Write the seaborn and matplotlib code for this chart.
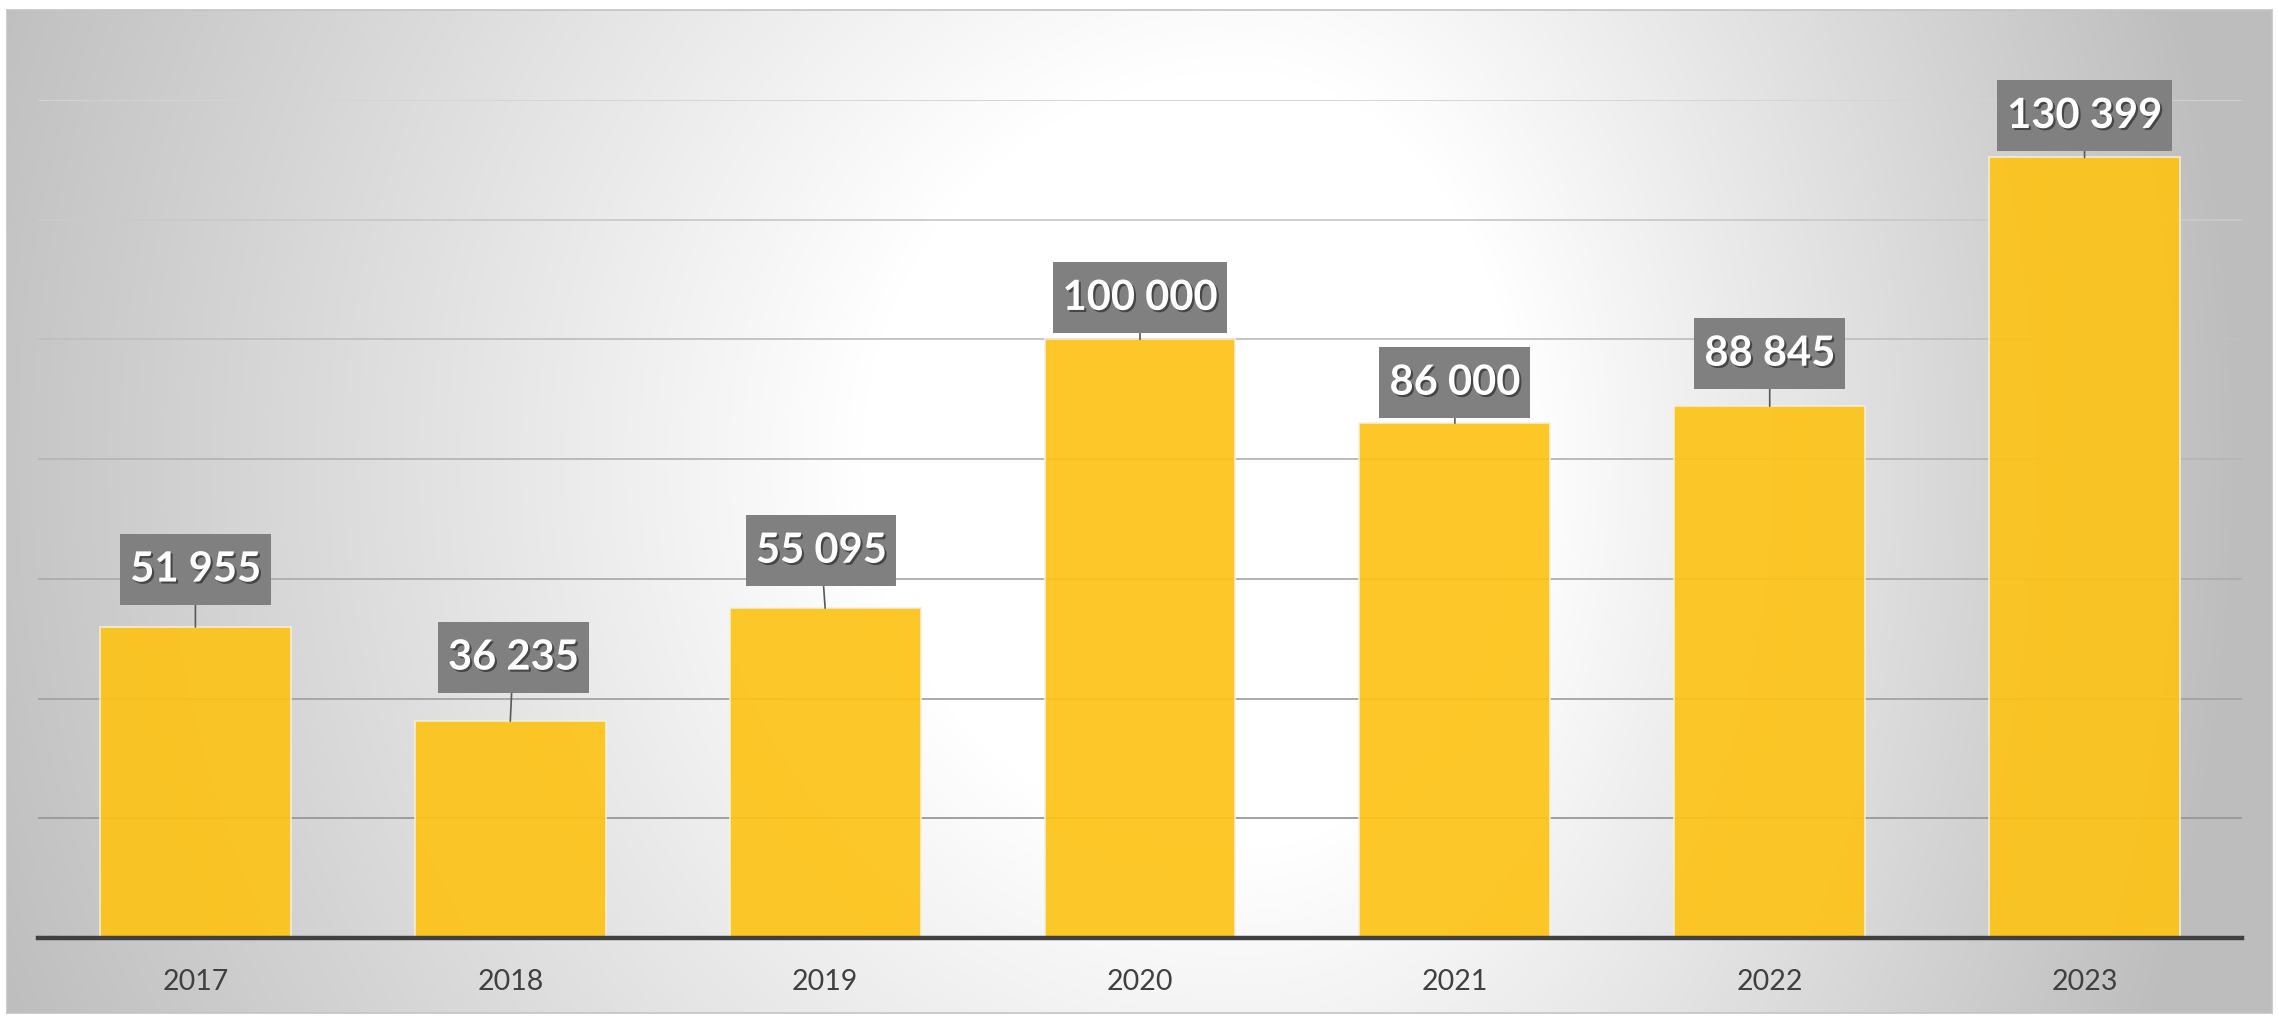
import numpy as np
import matplotlib.pyplot as plt
import matplotlib.patheffects as pe
import seaborn as sns

# Data
years = ["2017", "2018", "2019", "2020", "2021", "2022", "2023"]
values = [51955, 36235, 55095, 100000, 86000, 88845, 130399]
labels = ["51 955", "36 235", "55 095", "100 000", "86 000", "88 845", "130 399"]

# label placement (pixels above bar top, horizontal shift), as in the reference
label_gap = [22, 28, 22, 6, 5, 17, 6]
label_shift = [0, 3, -4, 0, 0, 0, 0]

W, H, DPI = 2279, 1016, 100

sns.set_theme(style="white")
plt.rcParams["font.family"] = ["Lato", "DejaVu Sans"]

fig = plt.figure(figsize=(W / DPI, H / DPI), dpi=DPI)
fig.patch.set_facecolor("white")

# radial grey-to-white background panel
bg = fig.add_axes([7 / W, 3 / H, (2272 - 7) / W, (1013 - 10) / H], zorder=0)
yy, xx = np.mgrid[0:1003, 0:2265]
dx = (xx - 1235).astype(float)
dx = np.where(dx > 0, dx * 1.25, dx * 0.92)
dy = (yy - 450) * 0.9
r = np.sqrt(dx ** 2 + dy ** 2)
t = np.clip((r - 350) / 900, 0, 1)
shade = 255 - 66 * t
img = np.dstack([shade, shade, shade]) / 255
bg.imshow(img, aspect="auto", interpolation="bilinear")
bg.set_xticks([])
bg.set_yticks([])
for s in bg.spines.values():
    s.set_color("#c4c4c4")
    s.set_linewidth(1.2)

ax = fig.add_axes([38 / W, 1 - 938 / H, (2242 - 38) / W, (938 - 100) / H], zorder=1)
ax.patch.set_alpha(0)

# gridlines, lighter towards the top like the reference
grid_levels = np.arange(20000, 140001, 20000)
for g in grid_levels:
    f = (g - 20000) / 120000
    c = 0.60 + 0.23 * f
    ax.axhline(g, color=(c, c, c), lw=1.3, zorder=0)

sns.barplot(x=years, y=values, color="#FDC316", saturation=1, width=0.606,
            alpha=0.92, edgecolor="#f4f0e0", linewidth=1.2, ax=ax, zorder=2)

ax.set_xlim(-0.5, 6.5)
ax.set_ylim(0, 140000)
ax.set_yticks([])
ax.set_xlabel("")
ax.set_ylabel("")
for s in ["top", "right", "left"]:
    ax.spines[s].set_visible(False)
ax.spines["bottom"].set_color("#404040")
ax.spines["bottom"].set_linewidth(3.2)
ax.spines["bottom"].set_zorder(3)
ax.tick_params(axis="x", length=0, pad=22, labelsize=20.5, labelcolor="#404040")

fs = 30
pad = 0.24
aspect = 1.65
vpad_px = pad * aspect * fs * DPI / 72
for i, (v, lab) in enumerate(zip(values, labels)):
    ax.annotate(
        lab, xy=(i, v), xytext=(label_shift[i], label_gap[i] + vpad_px),
        textcoords="offset pixels", ha="center", va="bottom",
        fontsize=fs, fontweight="bold", color="white",
        bbox=dict(boxstyle=f"square,pad={pad}", fc="#808080", ec="none",
                  mutation_aspect=aspect),
        arrowprops=dict(arrowstyle="-", color="#595959", lw=1.2,
                        shrinkA=0, shrinkB=0),
        path_effects=[pe.SimplePatchShadow(offset=(1.5, -1.5), shadow_rgbFace="black", alpha=0.45),
                      pe.Normal()],
        zorder=4,
    )

fig.savefig("out.png", dpi=DPI)
